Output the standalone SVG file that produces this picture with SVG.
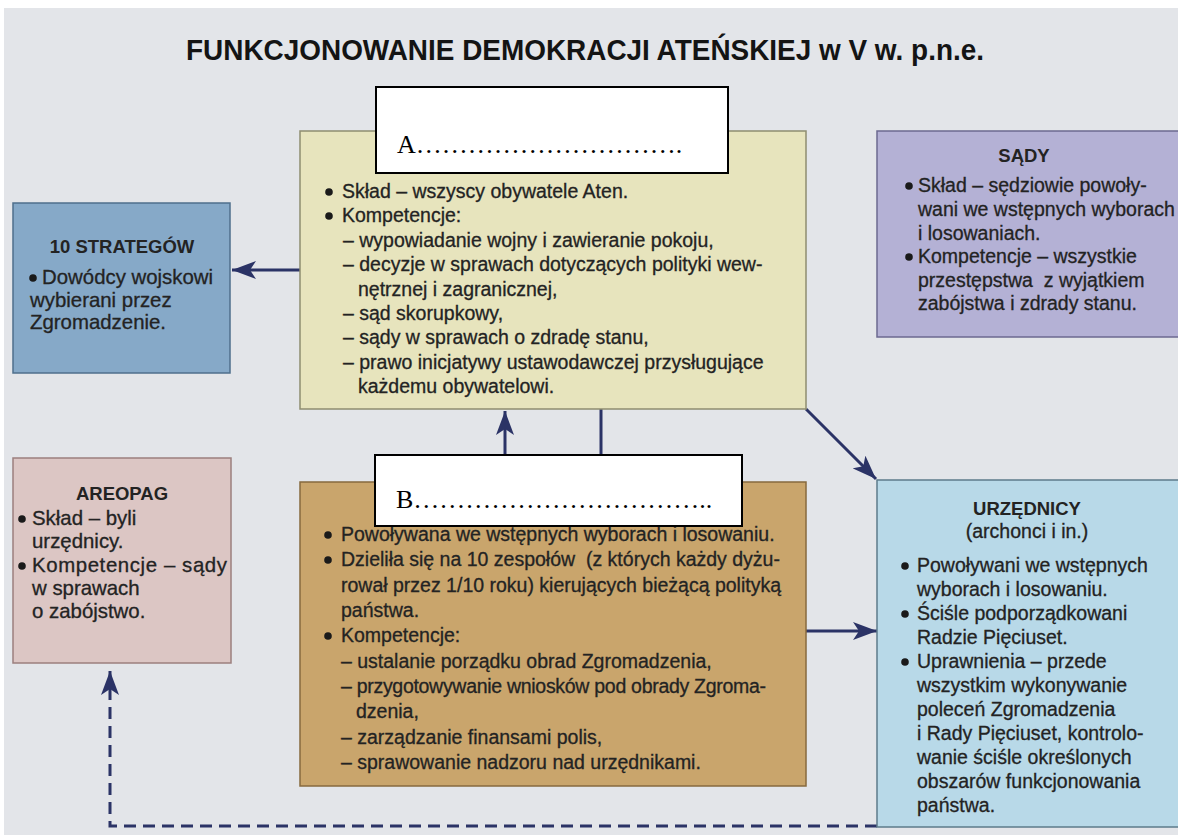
<svg xmlns="http://www.w3.org/2000/svg" width="1178" height="835" viewBox="0 0 1178 835">
<style>
.t{font-family:"Liberation Sans",Arial,sans-serif;font-size:19.5px;fill:#232323;stroke:#232323;stroke-width:0.3}
.s{font-size:20.4px}
.h{font-family:"Liberation Sans",Arial,sans-serif;font-size:18.5px;font-weight:bold;fill:#232323;text-anchor:middle}
.c{text-anchor:middle}
.lbl{font-family:"Liberation Serif","Times New Roman",serif;font-size:26px;fill:#000}
.box{stroke-width:1.5}
.wb{fill:#fff;stroke:#000;stroke-width:2}
.con{stroke:#2b3366;stroke-width:3;fill:none}
.dash{stroke-dasharray:12 7}
</style>
<defs>
<marker id="ah" markerUnits="userSpaceOnUse" markerWidth="24" markerHeight="18" refX="24" refY="9" orient="auto">
<path d="M0,0 L24,9 L0,18 L6,9 Z" fill="#2b3366"/>
</marker>
<symbol id="b" overflow="visible"><circle cx="0" cy="0" r="3.8" fill="#1a1a1a"/></symbol>
</defs>
<rect x="0" y="0" width="1178" height="835" fill="#ffffff"/>
<rect x="4" y="8" width="1174" height="827" fill="#e3e5e9"/>
<text id="title" x="585" y="60" text-anchor="middle" textLength="798" lengthAdjust="spacingAndGlyphs" style="font-family:'Liberation Sans',Arial,sans-serif;font-size:29px;font-weight:bold;fill:#141414">FUNKCJONOWANIE DEMOKRACJI ATEŃSKIEJ w V w. p.n.e.</text>

<g id="connectors">
<line class="con" x1="300" y1="270" x2="232" y2="270" marker-end="url(#ah)"/>
<line class="con" x1="505" y1="455" x2="505" y2="411" marker-end="url(#ah)"/>
<line class="con" x1="601" y1="409" x2="601" y2="455"/>
<line class="con" x1="806" y1="409" x2="876" y2="479" marker-end="url(#ah)"/>
<line class="con" x1="806" y1="631" x2="877" y2="631" marker-end="url(#ah)"/>
<path class="con dash" d="M877,826 H110 V671" marker-end="url(#ah)"/>
</g>

<g id="zgromadzenie">
<rect class="box" x="300" y="131" width="506" height="278" fill="#e7e4bd" stroke="#8f8d70"/>
<use href="#b" x="329" y="192"/>
<text class="t" x="342" y="198">Skład – wszyscy obywatele Aten.</text>
<use href="#b" x="329" y="216"/>
<text class="t" x="342" y="222">Kompetencje:</text>
<text class="t" x="343" y="247">– wypowiadanie wojny i zawieranie pokoju,</text>
<text class="t" x="343" y="271">– decyzje w sprawach dotyczących polityki wew-</text>
<text class="t" x="358" y="296">nętrznej i zagranicznej,</text>
<text class="t" x="343" y="320">– sąd skorupkowy,</text>
<text class="t" x="343" y="344">– sądy w sprawach o zdradę stanu,</text>
<text class="t" x="343" y="369">– prawo inicjatywy ustawodawczej przysługujące</text>
<text class="t" x="358" y="393">każdemu obywatelowi.</text>
</g>
<g id="labelA">
<rect class="wb" x="376" y="87" width="352" height="86"/>
<text class="lbl" x="397" y="153">A&#8230;&#8230;&#8230;&#8230;&#8230;&#8230;&#8230;&#8230;&#8230;&#8230;.</text>
</g>

<g id="strategow">
<rect class="box" x="13" y="203" width="217" height="170" fill="#86a9c8" stroke="#4f6f8c"/>
<text class="h" x="122" y="253">10 STRATEGÓW</text>
<use href="#b" x="33" y="278"/>
<text class="t s" x="42" y="284">Dowódcy wojskowi</text>
<text class="t s" x="30" y="307">wybierani przez</text>
<text class="t s" x="30" y="329">Zgromadzenie.</text>
</g>

<g id="sady">
<rect class="box" x="877" y="131" width="310" height="206" fill="#b4b1d5" stroke="#6c6990"/>
<text class="h" x="1024" y="162">SĄDY</text>
<use href="#b" x="909" y="186"/>
<text class="t" x="918" y="192">Skład – sędziowie powoły-</text>
<text class="t" x="918" y="216">wani we wstępnych wyborach</text>
<text class="t" x="918" y="240">i losowaniach.</text>
<use href="#b" x="909" y="257"/>
<text class="t" x="918" y="263">Kompetencje – wszystkie</text>
<text class="t" x="918" y="287" style="white-space:pre">przestępstwa  z wyjątkiem</text>
<text class="t" x="918" y="310">zabójstwa i zdrady stanu.</text>
</g>

<g id="areopag">
<rect class="box" x="13" y="458" width="218" height="205" fill="#dcc6c4" stroke="#9c7f7e"/>
<text class="h" x="122" y="500">AREOPAG</text>
<use href="#b" x="22" y="519"/>
<text class="t s" x="32" y="525">Skład – byli</text>
<text class="t s" x="32" y="548">urzędnicy.</text>
<use href="#b" x="22" y="566"/>
<text class="t s" x="32" y="572" textLength="195" lengthAdjust="spacing">Kompetencje – sądy</text>
<text class="t s" x="32" y="595">w sprawach</text>
<text class="t s" x="32" y="618">o zabójstwo.</text>
</g>

<g id="rada">
<rect class="box" x="300" y="482" width="506" height="304" fill="#c9a56c" stroke="#876a3e"/>
<use href="#b" x="328" y="535"/>
<text class="t" x="341" y="541">Powoływana we wstępnych wyborach i losowaniu.</text>
<use href="#b" x="328" y="560"/>
<text class="t" x="341" y="566" style="white-space:pre">Dzieliła się na 10 zespołów  (z których każdy dyżu-</text>
<text class="t" x="341" y="591.5">rował przez 1/10 roku) kierujących bieżącą polityką</text>
<text class="t" x="341" y="617">państwa.</text>
<use href="#b" x="328" y="636"/>
<text class="t" x="341" y="642">Kompetencje:</text>
<text class="t" x="341" y="667.5">– ustalanie porządku obrad Zgromadzenia,</text>
<text class="t" x="341" y="693" textLength="425" lengthAdjust="spacing">– przygotowywanie wniosków pod obrady Zgroma-</text>
<text class="t" x="356" y="718">dzenia,</text>
<text class="t" x="341" y="743.5">– zarządzanie finansami polis,</text>
<text class="t" x="341" y="769">– sprawowanie nadzoru nad urzędnikami.</text>
</g>
<g id="labelB">
<rect class="wb" x="375" y="455" width="367" height="71"/>
<text class="lbl" x="396" y="508">B&#8230;&#8230;&#8230;&#8230;&#8230;&#8230;&#8230;&#8230;&#8230;&#8230;&#8230;..</text>
</g>

<g id="urzednicy">
<rect class="box" x="877" y="480" width="310" height="347" fill="#b8d9e8" stroke="#5d7b8b"/>
<text class="h" x="1027" y="515">URZĘDNICY</text>
<text class="t c" x="1027" y="538">(archonci i in.)</text>
<use href="#b" x="905" y="566"/>
<text class="t" x="917" y="572">Powoływani we wstępnych</text>
<text class="t" x="917" y="596">wyborach i losowaniu.</text>
<use href="#b" x="905" y="614"/>
<text class="t" x="917" y="620">Ściśle podporządkowani</text>
<text class="t" x="917" y="644">Radzie Pięciuset.</text>
<use href="#b" x="905" y="662"/>
<text class="t" x="917" y="668">Uprawnienia – przede</text>
<text class="t" x="917" y="692">wszystkim wykonywanie</text>
<text class="t" x="917" y="716">poleceń Zgromadzenia</text>
<text class="t" x="917" y="740">i Rady Pięciuset, kontrolo-</text>
<text class="t" x="917" y="764">wanie ściśle określonych</text>
<text class="t" x="917" y="788">obszarów funkcjonowania</text>
<text class="t" x="917" y="812">państwa.</text>
</g>
</svg>
